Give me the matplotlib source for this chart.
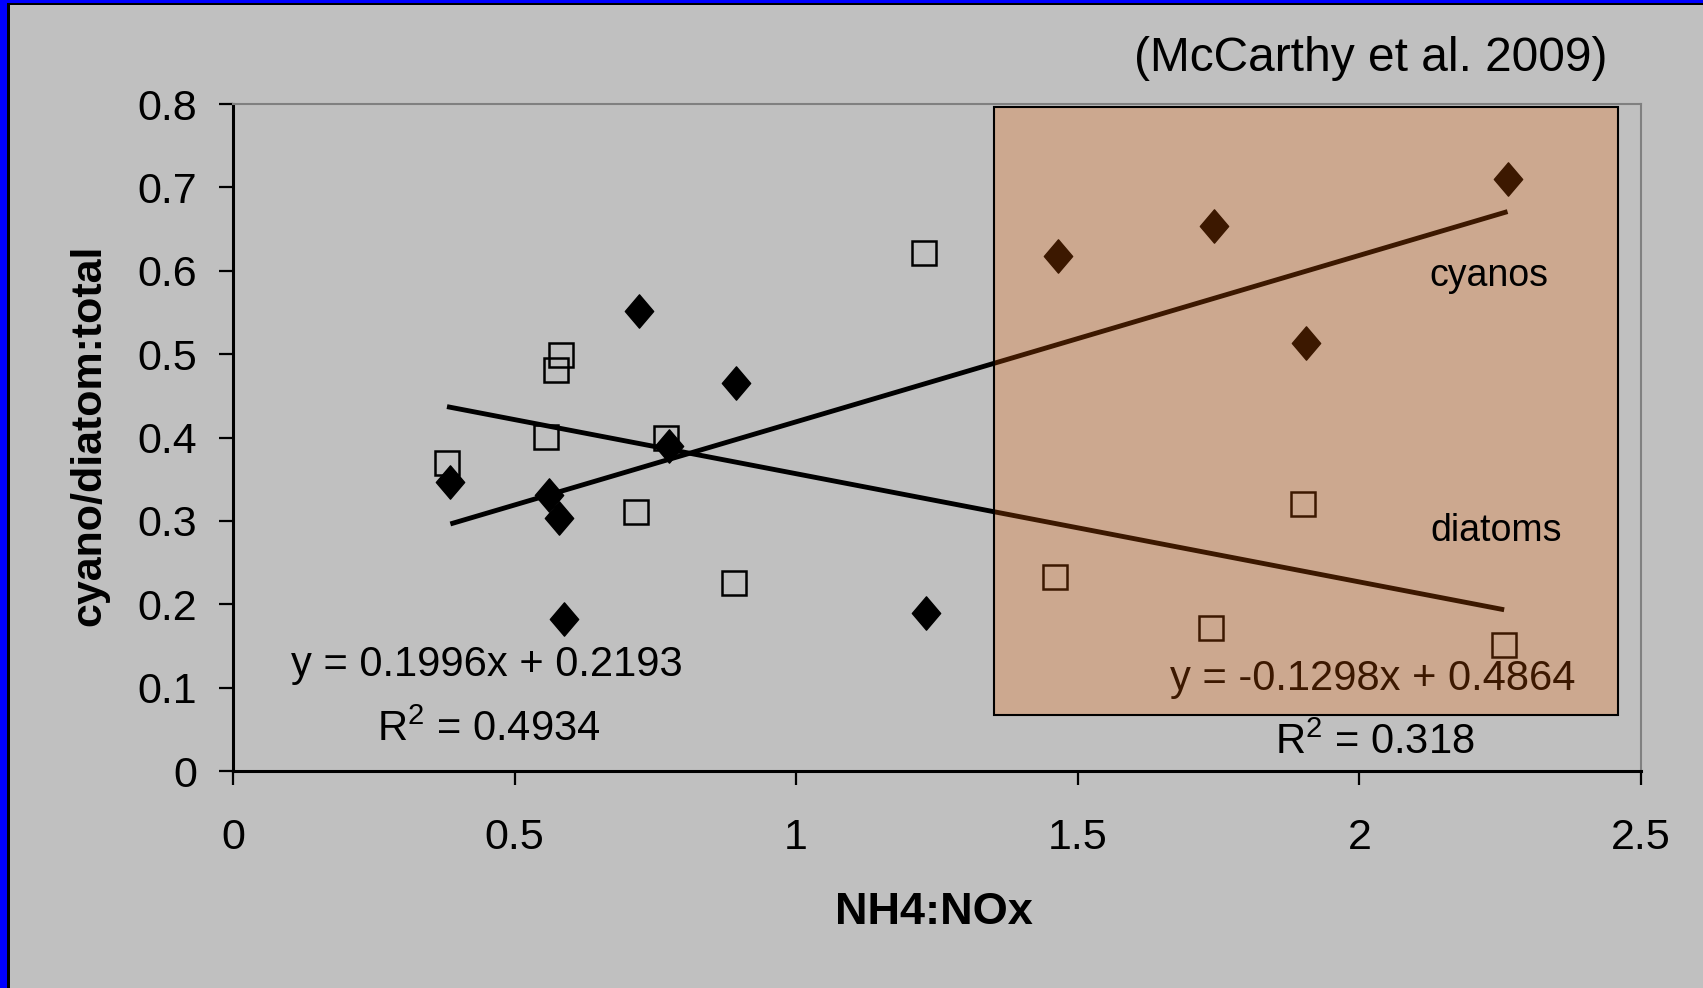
import matplotlib
matplotlib.use("Agg")
import matplotlib.pyplot as plt
from matplotlib.patches import Rectangle
from matplotlib.path import Path

plt.rcParams['font.family'] = ['Liberation Sans', 'DejaVu Sans']
plt.rcParams['mathtext.fontset'] = 'custom'
plt.rcParams['mathtext.rm'] = 'Liberation Sans'

# cyanobacteria fraction (filled diamonds)
cyano_x = [0.386, 0.561, 0.579, 0.588, 0.721, 0.775, 0.893, 1.231, 1.464, 1.742, 1.906, 2.263]
cyano_y = [0.347, 0.331, 0.304, 0.182, 0.552, 0.390, 0.465, 0.190, 0.618, 0.654, 0.513, 0.710]

# diatom fraction (open squares)
diatom_x = [0.380, 0.556, 0.573, 0.583, 0.716, 0.768, 0.889, 1.227, 1.460, 1.736, 1.900, 2.257]
diatom_y = [0.369, 0.401, 0.481, 0.499, 0.311, 0.399, 0.225, 0.621, 0.233, 0.171, 0.320, 0.151]

# linear fits from the original
cyano_fit = (0.1996, 0.2193)
diatom_fit = (-0.1298, 0.4864)

x_ticks = [0, 0.5, 1, 1.5, 2, 2.5]
x_labels = ["0", "0.5", "1", "1.5", "2", "2.5"]
y_ticks = [0, 0.1, 0.2, 0.3, 0.4, 0.5, 0.6, 0.7, 0.8]
y_labels = ["0", "0.1", "0.2", "0.3", "0.4", "0.5", "0.6", "0.7", "0.8"]

# highlighted region (high NH4:NOx)
box_x = (1.351, 2.459)
box_y = (0.067, 0.797)

bg = "#c0c0c0"
fig = plt.figure(figsize=(17.03, 9.88), dpi=100, facecolor=bg)
ax = fig.add_axes([0.1368, 0.2196, 0.8268, 0.6751])
ax.set_facecolor(bg)

# blue slide frame (left and top) with black inner line
W, H = 1703.0, 988.0
fig.add_artist(Rectangle((0, 0), 7 / W, 1, transform=fig.transFigure, color="#0000ff", lw=0))
fig.add_artist(Rectangle((7 / W, 0), 3 / W, 1 - 3 / H, transform=fig.transFigure, color="black", lw=0))
fig.add_artist(Rectangle((0, 1 - 3 / H), 1, 3 / H, transform=fig.transFigure, color="#0000ff", lw=0))
fig.add_artist(Rectangle((7 / W, 1 - 5 / H), 1, 2 / H, transform=fig.transFigure, color="black", lw=0))

diamond = Path([(0, 1), (0.85, 0), (0, -1), (-0.85, 0), (0, 1)],
               [Path.MOVETO, Path.LINETO, Path.LINETO, Path.LINETO, Path.CLOSEPOLY])

ax.plot(cyano_x, cyano_y, linestyle="none", marker=diamond, markersize=24,
        color="black", zorder=3)
ax.plot(diatom_x, diatom_y, linestyle="none", marker="s", markersize=17,
        markerfacecolor="none", markeredgecolor="black", markeredgewidth=1.8, zorder=3)

cx = [min(cyano_x), max(cyano_x)]
ax.plot(cx, [cyano_fit[0] * v + cyano_fit[1] for v in cx], color="black", lw=3.5, zorder=2,
        solid_capstyle="butt")
dx = [min(diatom_x), max(diatom_x)]
ax.plot(dx, [diatom_fit[0] * v + diatom_fit[1] for v in dx], color="black", lw=3.5, zorder=2,
        solid_capstyle="butt")

fs = 30
ax.text(0.451, 0.1275, "y = 0.1996x + 0.2193", fontsize=fs, ha="center", va="center")
ax.text(0.4545, 0.0500, r"R$^\mathregular{2}$ = 0.4934", fontsize=fs, ha="center", va="center")
ax.text(2.024, 0.1107, "y = -0.1298x + 0.4864", fontsize=fs, ha="center", va="center", zorder=1)
ax.text(2.028, 0.034, r"R$^\mathregular{2}$ = 0.318", fontsize=fs, ha="center", va="center")

ax.add_patch(Rectangle((box_x[0], box_y[0]), box_x[1] - box_x[0], box_y[1] - box_y[0],
                       facecolor=(0.94, 0.38, 0.0, 0.25), edgecolor="black", lw=1.5, zorder=5))

ax.text(2.230, 0.594, "cyanos", fontsize=27, ha="center", va="center", zorder=6)
ax.text(2.243, 0.288, "diatoms", fontsize=27, ha="center", va="center", zorder=6)
ax.text(2.021, 0.855, "(McCarthy et al. 2009)", fontsize=34.5, ha="center", va="center",
        clip_on=False)

ax.set_xlim(0, 2.5)
ax.set_ylim(0, 0.8)
ax.set_xticks(x_ticks)
ax.set_xticklabels(x_labels)
ax.set_yticks(y_ticks)
ax.set_yticklabels(y_labels)
ax.tick_params(direction="out", length=10, width=1.6, labelsize=31, colors="black")
ax.tick_params(axis="y", pad=16)
ax.tick_params(axis="x", pad=24)

for s in ["left", "bottom"]:
    ax.spines[s].set_color("black")
    ax.spines[s].set_linewidth(2.2)
for s in ["top", "right"]:
    ax.spines[s].set_color("#808080")
    ax.spines[s].set_linewidth(1.5)

ax.set_xlabel("NH4:NOx", fontsize=32.5, fontweight="bold")
ax.set_ylabel("cyano/diatom:total", fontsize=31, fontweight="bold")
ax.xaxis.label.set_verticalalignment("center")
ax.yaxis.label.set_verticalalignment("center")
ax.xaxis.set_label_coords(0.498, -0.2115)
ax.yaxis.set_label_coords(-0.1023, 0.504)

fig.savefig("out.png", dpi=100, facecolor=bg)
